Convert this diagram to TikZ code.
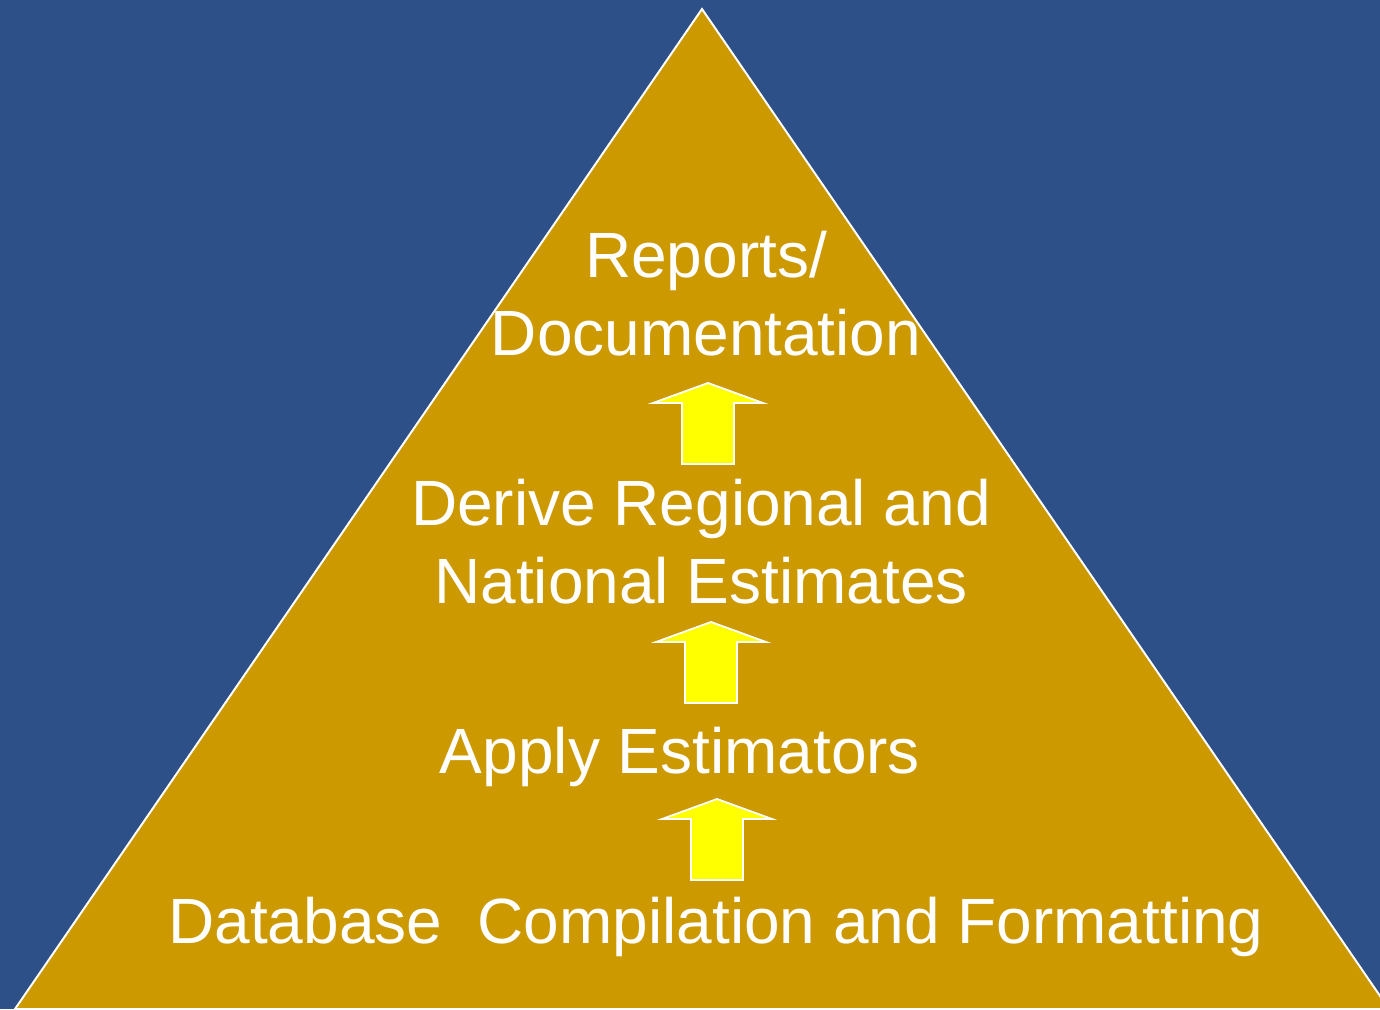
\documentclass[tikz,border=0pt]{standalone}
\usepackage{fontspec}
\setmainfont{Liberation Sans}
\usepackage{tikz}

\definecolor{slateblue}{RGB}{46,80,136}
\definecolor{pyramidgold}{RGB}{204,153,0}
\definecolor{arrowyellow}{RGB}{255,255,0}

\begin{document}
\begin{tikzpicture}[x=0.025cm, y=-0.025cm,
    level/.style={text=white, anchor=base, align=center, inner sep=0pt,
        font=\fontsize{45.5}{55}\selectfont},
    uparrow/.style={fill=arrowyellow, draw=white, line width=1.3pt, line join=miter}]
    \useasboundingbox (0,0) rectangle (1380,1009);
    \clip (0,0) rectangle (1380,1009);
    \fill[slateblue] (0,0) rectangle (1380,1009);

    % the pyramid
    \draw[fill=pyramidgold, draw=white, line width=1.4pt]
        (702,9) -- (1389,1009) -- (15,1009) -- cycle;

    % levels, bottom to top (base = last line)
    \node[level] (db) at (716,943) {Database\ \ Compilation and Formatting};
    \node[level] (apply) at (680,773) {Apply Estimators};
    \node[level] (derive) at (701,603) {Derive Regional and\\National Estimates};
    \node[level] (reports) at (706,355) {Reports/\\Documentation};

    % block arrows between levels: tip x, tip y
    \foreach \x/\y in {708/383, 711/622, 717/799}
        \draw[uparrow] (\x,\y) -- (\x+55,\y+20) -- (\x+26,\y+20) -- (\x+26,\y+81)
            -- (\x-26,\y+81) -- (\x-26,\y+20) -- (\x-55,\y+20) -- cycle;
\end{tikzpicture}
\end{document}
